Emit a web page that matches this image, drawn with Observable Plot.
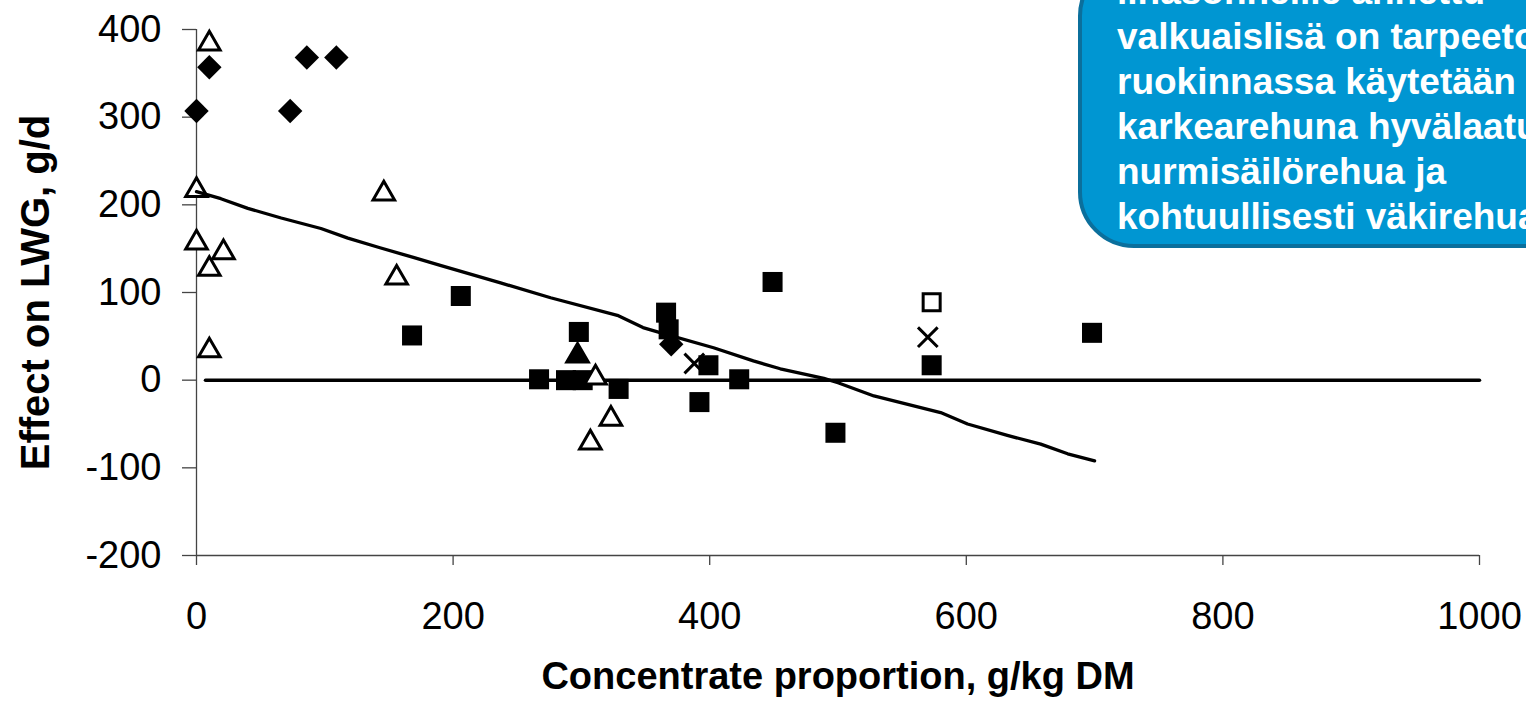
<!DOCTYPE html>
<html>
<head>
<meta charset="utf-8">
<script src="https://cdn.jsdelivr.net/npm/d3@7"></script>
<script src="https://cdn.jsdelivr.net/npm/@observablehq/plot@0.6"></script>
<style>
html, body { margin: 0; padding: 0; background: #fff; overflow: hidden; }
#wrap { position: relative; width: 1526px; height: 712px; overflow: hidden; background: #fff; }
#note {
  position: absolute; left: 1078px; top: -40px; width: 660px; height: 288px;
  box-sizing: border-box; background: #0096d2; border: 4px solid #0b6f9c;
  border-radius: 56px; color: #fff;
  font: bold 37px "Liberation Sans", Arial, sans-serif; line-height: 45px;
  padding: 5px 0 0 35px; white-space: nowrap;
}
</style>
</head>
<body>
<div id="wrap"><div id="chart"></div><div id="note"></div></div>
<script>
// ---- data ----
const xTicks = [0, 200, 400, 600, 800, 1000];
const yTicks = [-200, -100, 0, 100, 200, 300, 400];
const xTitle = "Concentrate proportion, g/kg DM";
const yTitle = "Effect on LWG, g/d";
const noteLines = ["lihasonneille annettu", "valkuaislisä on tarpeeton, kun", "ruokinnassa käytetään", "karkearehuna hyvälaatuista", "nurmisäilörehua ja", "kohtuullisesti väkirehua."];

const openTriX = [10, 0, 0, 10, 21, 10, 146, 156, 311, 323, 307];
const openTriY = [386, 219, 159, 129, 148, 36, 215, 119, 5, -42, -69];

const diamondX = [0, 10, 86, 109, 73, 370];
const diamondY = [307, 357, 368, 368, 307, 41];

const squareX = [168, 206, 267, 288, 301, 298, 329, 366, 368, 392, 399, 423, 449, 498, 573, 698];
const squareY = [51, 96, 1, 0, 0, 55, -10, 77, 58, -25, 17, 1, 112, -60, 17, 54];

const filledTriX = [297];
const filledTriY = [30];

const crossX = [388, 570];
const crossY = [19, 49];

const openSquareX = [573];
const openSquareY = [89];

const zeroX = [7, 1000];
const zeroY = [0, 0];

const lineX = [0, 19, 40, 66, 97, 118, 143, 169, 190, 237, 276, 328, 348, 362, 403, 434, 455, 489, 500, 528, 580, 601, 632, 658, 679, 700];
const lineY = [215, 207, 196, 185, 173, 162, 151, 140, 131, 111, 94, 74, 60, 54, 37, 22, 13, 2, -3, -18, -37, -50, -63, -73, -84, -92];

// ---- tables ----
const zip = (X, Y) => X.map((x, i) => ({x, y: Y[i]}));
const openTri = zip(openTriX, openTriY);
const diamonds = zip(diamondX, diamondY);
const squares = zip(squareX, squareY);
const filledTri = zip(filledTriX, filledTriY);
const crosses = zip(crossX, crossY);
const openSquares = zip(openSquareX, openSquareY);
const zeroLine = zip(zeroX, zeroY);
const trend = zip(lineX, lineY);

const fontFamily = '"Liberation Sans", Arial, sans-serif';

const chart = Plot.plot({
  width: 1526,
  height: 712,
  marginLeft: 196,
  marginRight: 47,
  marginTop: 29,
  marginBottom: 157,
  x: {domain: [0, 1000]},
  y: {domain: [-200, 400]},
  style: {fontFamily, background: "white", color: "black", overflow: "visible"},
  marks: [
    Plot.ruleY([-200], {stroke: "#444", strokeWidth: 1.3}),
    Plot.ruleX([0], {stroke: "#444", strokeWidth: 1.3}),
    Plot.axisX({ticks: xTicks, tickSize: 10, tickPadding: 37, fontSize: 38, label: null, stroke: "#444", strokeWidth: 1.3, fill: "black", tickFormat: d => String(d)}),
    Plot.axisY({ticks: yTicks, tickSize: 14, tickPadding: 21, fontSize: 38, label: null, stroke: "#444", strokeWidth: 1.3, fill: "black", tickFormat: d => String(d)}),
    Plot.text([yTitle], {frameAnchor: "left", textAnchor: "middle", rotate: -90, dx: -160, fontSize: 40, fontWeight: "bold", fill: "black"}),
    Plot.text([xTitle], {frameAnchor: "bottom", dy: 133, fontSize: 38, fontWeight: "bold", fill: "black"}),
    Plot.line(zeroLine, {x: "x", y: "y", stroke: "black", strokeWidth: 3.5}),
    Plot.dot(squares, {x: "x", y: "y", symbol: "square", r: 11.3, fill: "black", stroke: "none"}),
    Plot.dot(openSquares, {x: "x", y: "y", symbol: "square", r: 9.6, fill: "white", stroke: "black", strokeWidth: 3}),
    Plot.dot(crosses, {x: "x", y: "y", symbol: "times", r: 9, stroke: "black", strokeWidth: 3}),
    Plot.dot(openTri, {x: "x", y: "y", symbol: "triangle", r: 8, fill: "white", stroke: "black", strokeWidth: 3, dy: 2}),
    Plot.dot(filledTri, {x: "x", y: "y", symbol: "triangle", r: 8, fill: "black", stroke: "black", strokeWidth: 3, dy: 2}),
    Plot.dot(diamonds, {x: "x", y: "y", symbol: "diamond2", r: 11, fill: "black", stroke: "none"}),
    Plot.line(trend, {x: "x", y: "y", stroke: "black", strokeWidth: 3.3, curve: "linear"})
  ]
});
document.getElementById("chart").appendChild(chart);

const note = document.getElementById("note");
noteLines.forEach(t => {
  const d = document.createElement("div");
  d.textContent = t;
  note.appendChild(d);
});
</script>
</body>
</html>
